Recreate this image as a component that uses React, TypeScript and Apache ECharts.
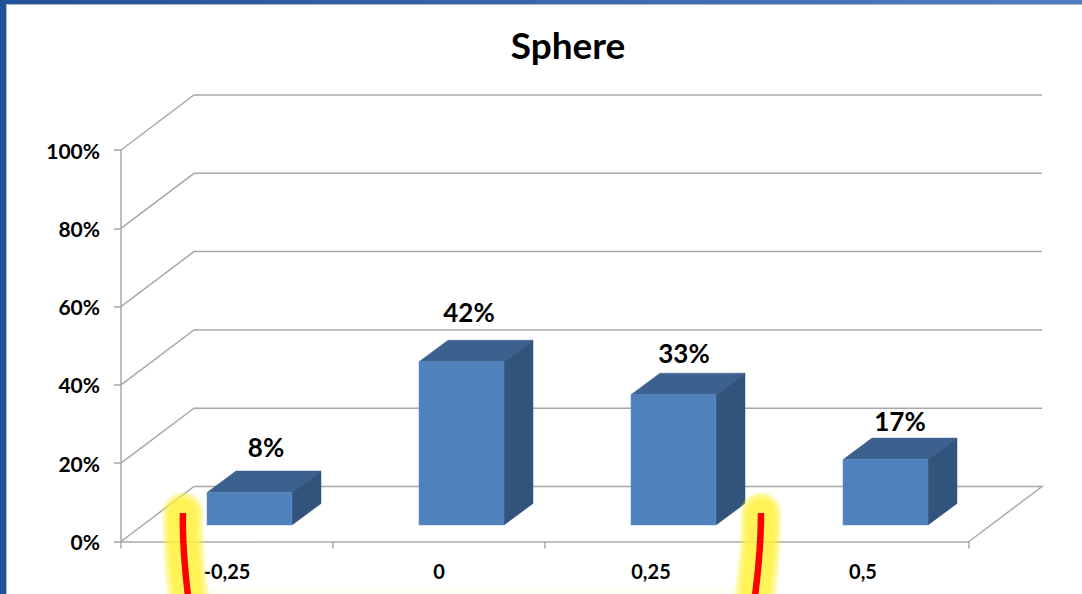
import React, { useEffect, useRef } from "react";
import * as echarts from "echarts";

const categories = ["-0,25", "0", "0,25", "0,5"];
const shares = [8.3, 41.7, 33.3, 16.7];
const yTicks = [0, 20, 40, 60, 80, 100];
const titleText = "Sphere";

const FONT = "Lato, 'Open Sans', sans-serif";
const GRID = { left: 121, top: 150, width: 848, height: 391.5 };
const WALL_DX = 73;
const WALL_DY = -55;
const BAR_DX = 29;
const BAR_DY = -21.5;
const BAR_W = 85;
const BAR_SHIFT_X = 22.5;
const BAR_SHIFT_Y = -16.5;
const LINE = "#a8a8a8";
const labelNudgeX = [2, -7, -4, 0];
const labelLift = [24, 28, 20, 17];

const curves = [
  { x1: 183, y1: 513, cpx1: 182, cpy1: 545, x2: 188, y2: 596 },
  { x1: 761, y1: 513, cpx1: 761, cpy1: 550, x2: 755, y2: 596 },
];
const glowWidths = [42, 39, 36, 33, 30, 28, 26];

export default function App() {
  const ref = useRef<HTMLDivElement>(null);
  useEffect(() => {
    document.body.style.margin = "0";
    const chart = echarts.init(ref.current!, null, { renderer: "svg" });
    chart.setOption({
      animation: false,
      backgroundColor: "#ffffff",
      title: {
        text: titleText,
        left: 563,
        top: 21,
        textAlign: "center",
        textStyle: { fontFamily: FONT, fontSize: 37, fontWeight: "bold", color: "#000" },
      },
      grid: { ...GRID },
      xAxis: {
        type: "category",
        data: categories,
        boundaryGap: true,
        axisLine: { show: true, lineStyle: { color: LINE, width: 1.5 } },
        axisTick: { show: true, length: 7, alignWithLabel: false, lineStyle: { color: LINE, width: 1.5 } },
        axisLabel: { margin: 19, fontFamily: FONT, fontSize: 20, fontWeight: "bold", color: "#000", interval: 0 },
      },
      yAxis: {
        type: "value",
        min: 0,
        max: 100,
        interval: 20,
        axisLine: { show: true, lineStyle: { color: LINE, width: 1.5 } },
        axisTick: { show: true, length: 7, lineStyle: { color: LINE, width: 1.5 } },
        splitLine: { show: false },
        axisLabel: {
          margin: 21,
          fontFamily: FONT,
          fontSize: 21,
          fontWeight: "bold",
          color: "#000",
          formatter: "{value}%",
        },
      },
      series: [
        {
          type: "custom",
          coordinateSystem: "cartesian2d",
          silent: true,
          z: 1,
          data: yTicks.map((v) => [0, v]),
          renderItem: (_p: any, api: any) => {
            const v = api.value(1);
            const [cx, y] = api.coord([0, v]);
            const slot = api.size([1, 0])[0];
            const x0 = cx - slot / 2;
            const x1 = x0 + slot * categories.length;
            const points: number[][] = [
              [x0, y],
              [x0 + WALL_DX, y + WALL_DY],
              [x1 + WALL_DX, y + WALL_DY],
            ];
            if (v === 0) points.push([x1, y]);
            return {
              type: "polyline",
              shape: { points },
              style: { stroke: LINE, lineWidth: 1.5, fill: "none" },
            };
          },
        },
        {
          type: "custom",
          coordinateSystem: "cartesian2d",
          silent: true,
          z: 3,
          data: shares.map((v, i) => [i, v]),
          renderItem: (_p: any, api: any) => {
            const i = api.value(0);
            const v = api.value(1);
            const [cx, yTop0] = api.coord([i, v]);
            const [, yBase0] = api.coord([i, 0]);
            const l = cx + BAR_SHIFT_X - BAR_W / 2;
            const r = l + BAR_W;
            const t = yTop0 + BAR_SHIFT_Y;
            const b = yBase0 + BAR_SHIFT_Y;
            return {
              type: "group",
              children: [
                {
                  type: "polygon",
                  shape: { points: [[l, t], [r, t], [r + BAR_DX, t + BAR_DY], [l + BAR_DX, t + BAR_DY]] },
                  style: { fill: "#3c618f", stroke: "#3c618f", lineWidth: 0.5 },
                },
                {
                  type: "polygon",
                  shape: { points: [[r, t], [r + BAR_DX, t + BAR_DY], [r + BAR_DX, b + BAR_DY], [r, b]] },
                  style: { fill: "#32537b", stroke: "#32537b", lineWidth: 0.5 },
                },
                {
                  type: "rect",
                  shape: { x: l, y: t, width: BAR_W, height: b - t },
                  style: { fill: "#4f81bd", stroke: "#5f8dc4", lineWidth: 0.5 },
                },
                {
                  type: "text",
                  style: {
                    x: (l + r + BAR_DX) / 2 + labelNudgeX[i],
                    y: t + BAR_DY - labelLift[i],
                    text: Math.round(v) + "%",
                    fill: "#000",
                    align: "center",
                    verticalAlign: "middle",
                    fontFamily: FONT,
                    fontSize: 26,
                    fontWeight: "bold",
                  },
                },
              ],
            };
          },
        },
      ],
      graphic: [
        {
          type: "rect",
          z: 20,
          shape: { x: 0, y: 0, width: 1082, height: 4 },
          style: {
            fill: new echarts.graphic.LinearGradient(0, 0, 1, 0, [
              { offset: 0, color: "#1f5296" },
              { offset: 1, color: "#4f7fc2" },
            ]),
          },
        },
        { type: "rect", z: 20, shape: { x: 0, y: 4, width: 1082, height: 1 }, style: { fill: "#b4b8be" } },
        { type: "rect", z: 21, shape: { x: 0, y: 0, width: 6, height: 594 }, style: { fill: "#1f5296" } },
        { type: "rect", z: 21, shape: { x: 6, y: 4, width: 1, height: 590 }, style: { fill: "#b4b8be" } },
        { type: "rect", z: 19, shape: { x: 205, y: 589, width: 530, height: 5 }, style: { fill: "#fffef2" } },
        ...curves.flatMap((shape) => [
          ...glowWidths.map((w) => ({
            type: "bezierCurve",
            z: 22,
            shape,
            style: { stroke: "#fff23c", lineWidth: w, opacity: 0.24, fill: "none", lineCap: "round" },
          })),
          {
            type: "bezierCurve",
            z: 23,
            shape,
            style: { stroke: "#ff0000", lineWidth: 6.5, fill: "none" },
          },
        ]),
      ],
    });
    return () => chart.dispose();
  }, []);
  return <div ref={ref} style={{ width: 1082, height: 594 }} />;
}
